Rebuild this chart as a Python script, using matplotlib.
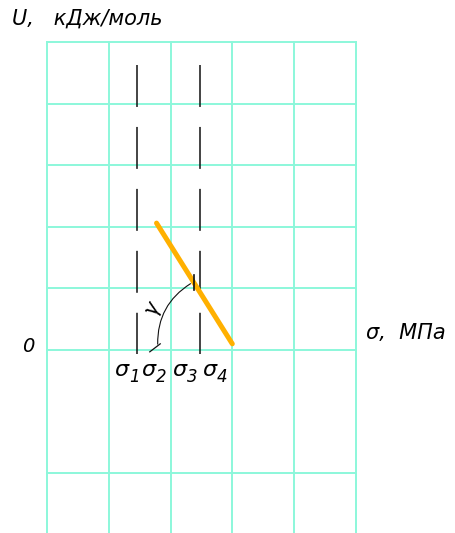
import numpy as np
import matplotlib
matplotlib.use("Agg")
import matplotlib.pyplot as plt
from matplotlib.patches import FancyArrowPatch

plt.rcParams['font.family'] = ['DejaVu Sans']
plt.rcParams['lines.scale_dashes'] = False

# grid in units of one cell (sigma along x, U along y)
grid_x = [0, 1, 2, 3, 4, 5]
grid_y = [5, 4, 3, 2, 1, 0, -2]

# dashed levels and their vertical extent
level_x = [1.46, 2.48]
level_top, level_bottom = 4.63, -0.06

# orange U(sigma) segment
line_x = [1.77, 3.0]
line_y = [2.06, 0.10]

# angle gamma arc: start and end points
arc_start = (1.79, 0.05)
arc_end = (2.36, 1.10)

sigma_labels = ['1', '2', '3', '4']
sigma_lbl_x = [1.08, 1.52, 2.03, 2.51]

grid_color = '#8cf7da'

fig = plt.figure(figsize=(4.56, 5.33), dpi=100)
ax = fig.add_axes([0, 0, 1, 1])
ax.set_xlim(-47.5 / 61.6, (456 - 47.5) / 61.6)
ax.set_ylim(-(533 - 350) / 61.6, 350 / 61.6)
ax.axis('off')

for gx in grid_x:
    ax.plot([gx, gx], [grid_y[0], -4], color=grid_color, lw=1.4, zorder=1)
for gy in grid_y:
    ax.plot([grid_x[0], grid_x[-1]], [gy, gy], color=grid_color, lw=1.4, zorder=1)

for lx in level_x:
    ax.plot([lx, lx], [level_top, level_bottom], color='#111111', lw=1.1,
            dashes=(30.2, 14.4), zorder=2)

ax.plot(line_x, line_y, color='#ffb000', lw=3.6, solid_capstyle='round', zorder=3)

arc = FancyArrowPatch(arc_start, arc_end, arrowstyle='-',
                      connectionstyle='arc3,rad=-0.3', color='#111111', lw=0.8, zorder=4)
ax.add_patch(arc)
ax.plot([1.66, 1.83], [-0.03, 0.10], color='#111111', lw=0.9, zorder=4)
ax.plot([2.378, 2.378], [0.97, 1.22], color='#111111', lw=1.2, zorder=4)
ax.text(1.70, 0.68, 'γ', fontsize=15, style='italic', rotation=65,
        ha='center', va='center')

for lx, s in zip(sigma_lbl_x, sigma_labels):
    ax.text(lx, -0.33, 'σ', fontsize=16, style='italic', ha='left', va='center')
    ax.text(lx + 0.24, -0.44, s, fontsize=12, style='italic', ha='left', va='center')

ax.text(-0.58, 5.38, 'U,   кДж/моль', fontsize=15, style='italic',
        ha='left', va='center')
ax.text(5.17, 0.27, 'σ,  МПа', fontsize=15, style='italic', ha='left', va='center')
ax.text(-0.32, 0.06, '0', fontsize=14, style='italic', ha='center', va='center')

fig.savefig('out.png', dpi=100)
